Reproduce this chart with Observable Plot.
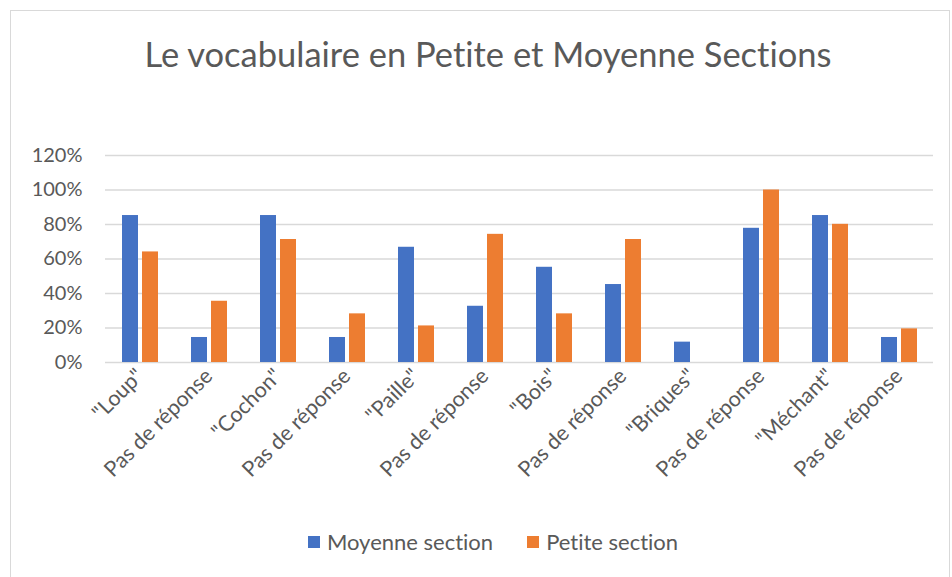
<!DOCTYPE html>
<html><head><meta charset="utf-8">
<script src="https://cdn.jsdelivr.net/npm/d3@7"></script>
<script src="https://cdn.jsdelivr.net/npm/@observablehq/plot@0.6"></script>
<style>
body{margin:0;background:#fff;font-family:Lato,"Open Sans",sans-serif;font-variant-ligatures:none;}
#frame{position:relative;width:952px;height:577px;overflow:hidden;background:#fff}
#border{position:absolute;left:10px;top:10px;width:940px;height:600px;border:1px solid #d9d9d9;box-sizing:border-box}
#title{position:absolute;left:0;width:976px;top:33px;text-align:center;font-size:34.5px;color:#595959;white-space:nowrap}
#chart{position:absolute;left:0;top:130px}
#chart svg text{font-variant-ligatures:none}
#legend{position:absolute;left:0;width:986px;top:528px;display:flex;justify-content:center;gap:34px;font-size:22px;color:#595959}
#legend .item{display:flex;align-items:center}
#legend .sw{width:12px;height:12px;margin-right:7px}
</style></head>
<body>
<div id="frame">
  <div id="border"></div>
  <div id="title">Le vocabulaire en Petite et Moyenne Sections</div>
  <div id="chart"></div>
  <div id="legend"></div>
</div>
<script>
const categories = ['"Loup"', "Pas de réponse", '"Cochon"', "Pas de réponse", '"Paille"', "Pas de réponse", '"Bois"', "Pas de réponse", '"Briques"', "Pas de réponse", '"Méchant"', "Pas de réponse"];
const series = ["Moyenne section", "Petite section"];
const moyenne = [0.852, 0.145, 0.852, 0.145, 0.668, 0.326, 0.552, 0.452, 0.118, 0.778, 0.852, 0.145];
const petite  = [0.641, 0.355, 0.713, 0.282, 0.212, 0.743, 0.282, 0.713, 0.0, 1.0, 0.801, 0.195];
const yTicks = [0, 0.2, 0.4, 0.6, 0.8, 1.0, 1.2];
const colors = ["#4472C4", "#ED7D31"];

const keys = categories.map((c, i) => i);
const data = [];
categories.forEach((c, i) => {
  data.push({k: i, s: series[0], v: moyenne[i]});
  data.push({k: i, s: series[1], v: petite[i]});
});

const chart = Plot.plot({
  width: 952, height: 380,
  marginTop: 25, marginBottom: 148, marginLeft: 103, marginRight: 17,
  style: {fontFamily: "Lato, 'Open Sans', sans-serif", fontSize: "20px", color: "#595959", background: "transparent", overflow: "visible"},
  fx: {domain: keys, padding: 0, label: null},
  x: {domain: series, paddingInner: 0.2, paddingOuter: 0.78, axis: null},
  y: {domain: [0, 1.2], ticks: yTicks, tickFormat: d => Math.round(d * 100) + "%", tickSize: 0, tickPadding: 23, label: null},
  color: {domain: series, range: colors},
  marks: [
    Plot.gridY(yTicks, {stroke: "#d9d9d9", strokeOpacity: 1, strokeWidth: 1.5}),
    Plot.barY(data, {fx: "k", x: "s", y: "v", fill: "s"}),
    Plot.axisFx({anchor: "bottom", tickFormat: i => categories[i], tickRotate: -45, tickSize: 0, tickPadding: 10, fontSize: 21.5, label: null})
  ]
});
document.getElementById("chart").appendChild(chart);

const legend = document.getElementById("legend");
series.forEach((s, i) => {
  const it = document.createElement("div"); it.className = "item";
  const sw = document.createElement("div"); sw.className = "sw"; sw.style.background = colors[i];
  const t = document.createElement("span"); t.textContent = s;
  it.appendChild(sw); it.appendChild(t); legend.appendChild(it);
});
</script>
</body></html>
